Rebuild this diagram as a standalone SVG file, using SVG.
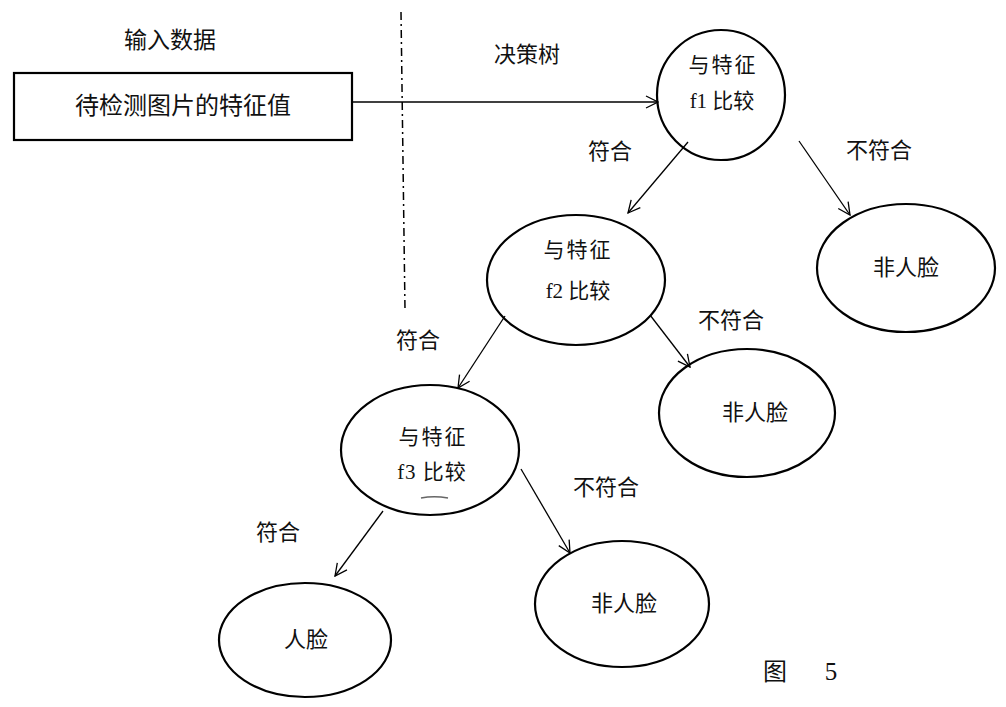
<svg xmlns="http://www.w3.org/2000/svg" width="1006" height="707" viewBox="0 0 1006 707">
<defs>
<marker id="arr" viewBox="0 0 14 14" refX="13" refY="7" markerWidth="14" markerHeight="14" markerUnits="userSpaceOnUse" orient="auto">
<path d="M1,1 L13,7 L1,13" fill="none" stroke="#000" stroke-width="1.3"/>
</marker>
<style>
.n{fill:#fff;stroke:#000;stroke-width:2.2}
.t{font-family:"Liberation Serif","Noto Sans CJK SC",serif;font-size:21px;fill:#111;text-anchor:middle}
.c{stroke:#000;stroke-width:1.3;fill:none;marker-end:url(#arr)}
</style>
</defs>
<rect width="1006" height="707" fill="#fff"/>
<line x1="401" y1="12" x2="405" y2="310" stroke="#000" stroke-width="1.5" stroke-dasharray="8,4,2,4"/>
<text class="t" x="170" y="48" style="font-size:23px">输入数据</text>
<text class="t" x="527" y="62" style="font-size:22px">决策树</text>
<g id="input"><rect class="n" x="14" y="73" width="338" height="67"/><text class="t" x="183" y="114" style="font-size:24px">待检测图片的特征值</text></g>
<g id="f1"><ellipse class="n" cx="721" cy="95" rx="64" ry="65"/><text class="t" x="723" y="72" style="letter-spacing:2px">与特征</text><text class="t" x="722" y="108">f1 比较</text></g>
<g id="f2"><ellipse class="n" cx="576" cy="280" rx="89" ry="65"/><text class="t" x="578" y="257" style="letter-spacing:2px">与特征</text><text class="t" x="578" y="298">f2 比较</text></g>
<g id="f3"><ellipse class="n" cx="430" cy="450" rx="89" ry="65"/><text class="t" x="433" y="444" style="letter-spacing:2px">与特征</text><text class="t" x="432" y="479" style="letter-spacing:1px">f3 比较</text><path d="M421,498 Q434,495.5 448,498" stroke="#666" stroke-width="1.6" fill="none"/></g>
<g id="nf1"><ellipse class="n" cx="906" cy="268" rx="89" ry="64"/><text class="t" x="906" y="275" style="font-size:22px">非人脸</text></g>
<g id="nf2"><ellipse class="n" cx="747" cy="413" rx="88" ry="64"/><text class="t" x="755" y="420" style="font-size:22px">非人脸</text></g>
<g id="nf3"><ellipse class="n" cx="622" cy="604" rx="87" ry="63"/><text class="t" x="624" y="611" style="font-size:22px">非人脸</text></g>
<g id="face"><ellipse class="n" cx="305" cy="640" rx="86" ry="57"/><text class="t" x="306" y="647" style="font-size:22px">人脸</text></g>
<g id="connectors">
<line class="c" x1="352" y1="102" x2="658" y2="102"/>
<line class="c" x1="688" y1="142" x2="628" y2="213"/>
<line class="c" x1="799" y1="141" x2="850" y2="215"/>
<line class="c" x1="505" y1="316" x2="458" y2="388"/>
<line class="c" x1="650" y1="315" x2="690" y2="367"/>
<line class="c" x1="383" y1="511" x2="335" y2="576"/>
<line class="c" x1="521" y1="469" x2="570" y2="553"/>
</g>
<text class="t" x="610" y="159" style="font-size:22px">符合</text>
<text class="t" x="879" y="158" style="font-size:22px">不符合</text>
<text class="t" x="418" y="348" style="font-size:22px">符合</text>
<text class="t" x="731" y="328" style="font-size:22px">不符合</text>
<text class="t" x="278" y="540" style="font-size:22px">符合</text>
<text class="t" x="606" y="495" style="font-size:22px">不符合</text>
<text class="t" x="775" y="680" style="font-size:24px">图</text>
<text class="t" x="831" y="680" style="font-size:25px">5</text>
</svg>
